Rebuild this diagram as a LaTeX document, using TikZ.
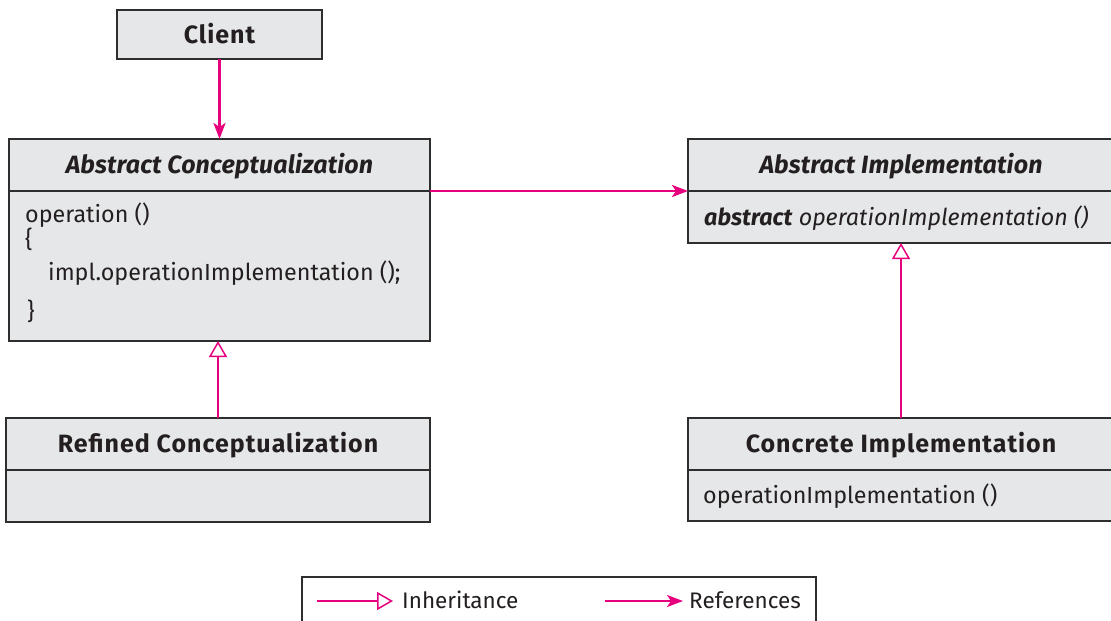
\documentclass[tikz,border=0pt]{standalone}
\usepackage{fontspec}
\setmainfont{Fira Sans}
\usetikzlibrary{arrows.meta}
\definecolor{mag}{HTML}{E6007E}
\definecolor{boxfill}{HTML}{E6E7E8}
\definecolor{boxline}{HTML}{2E2E2E}
\definecolor{ink}{HTML}{231F20}
\begin{document}
\begin{tikzpicture}[x=1pt,y=-1pt,
  cls/.style={draw=boxline, line width=1.8pt, fill=boxfill, anchor=north west, inner sep=0pt, outer sep=0pt, text=ink},
  ttl/.style={cls, font=\fontsize{25}{29}\selectfont\bfseries\addfontfeature{LetterSpace=4}, text height=17pt, text depth=0pt},
  ittl/.style={cls, font=\fontsize{25}{29}\selectfont\bfseries\itshape\addfontfeature{LetterSpace=0.6}, text height=17pt, text depth=0pt},
  body/.style={anchor=base west, inner sep=0pt, text=ink, font=\fontsize{23.3}{28}\selectfont},
  lgd/.style={anchor=base west, inner sep=0pt, text=ink, font=\fontsize{22.5}{27}\selectfont},
  refarrow/.style={draw=mag, line width=2.6pt, -{Stealth[length=16pt, width=12pt, inset=4pt]}},
  inharrow/.style={draw=mag, line width=2.6pt, -{Triangle[open, length=16pt, width=18pt, line width=1.5pt, fill=white]}},
]
\useasboundingbox (0,0) rectangle (1111,621);

% Client
\node[ttl, minimum width=205pt, minimum height=49pt] (client) at (117,10) {Client};

% Abstract Conceptualization
\node[ittl, minimum width=421pt, minimum height=52pt] (absct) at (9,139) {Abstract Conceptualization};
\node[cls, minimum width=421pt, minimum height=150pt] (abscb) at (absct.south west) {};
\node[body] (op1) at (25,222) {operation ()};
\node[body] (op2) at (25,247) {\{};
\node[body] (op3) at (48,280) {impl.operationImplementation ();};
\node[body] (op4) at (27,319) {\}};

% Refined Conceptualization
\node[ttl, minimum width=424pt, minimum height=52pt] (reft) at (6,418) {Refined Conceptualization};
\node[cls, minimum width=424pt, minimum height=52pt] (refb) at (reft.south west) {};

% Abstract Implementation
\node[ittl, minimum width=426pt, minimum height=52pt] (absit) at (688,139) {Abstract Implementation};
\node[cls, minimum width=426pt, minimum height=52pt] (absib) at (absit.south west) {};
\node[body] (absop) at (704,225) {\textbf{\itshape abstract} \itshape operationImplementation ()};

% Concrete Implementation
\node[ttl, minimum width=426pt, minimum height=52pt] (conct) at (688,418) {Concrete Implementation};
\node[cls, minimum width=426pt, minimum height=51pt] (concb) at (conct.south west) {};
\node[body] (concop) at (703,503) {operationImplementation ()};

% connectors
\draw[refarrow] (client.south) -- (absct.north);
\draw[refarrow] (absct.south east) -- (absit.south west);
\draw[inharrow] (reft.north) -- (reft.north |- abscb.south);
\draw[inharrow] (conct.north) -- (conct.north |- absib.south);

% legend
\node[draw=boxline, line width=1.5pt, anchor=north west, minimum width=514pt, minimum height=60pt, inner sep=0pt] (legend) at (301,576) {};
\coordinate (li1) at (317,601);
\coordinate (li2) at (393,601);
\coordinate (lr1) at (605,601);
\coordinate (lr2) at (683,601);
\draw[inharrow, line width=2.2pt] (li1) -- (li2);
\draw[refarrow, line width=2.2pt] (lr1) -- (lr2);
\node[lgd] (linh) at (402,608) {Inheritance};
\node[lgd] (lref) at (689,608) {References};
\end{tikzpicture}
\end{document}
